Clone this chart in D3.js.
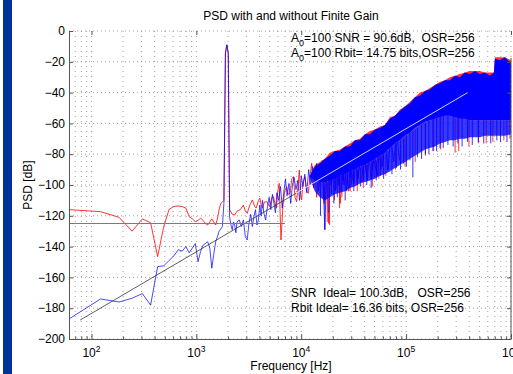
<!DOCTYPE html>
<html><head><meta charset="utf-8">
<script src="https://cdn.jsdelivr.net/npm/d3@7/dist/d3.min.js"></script>
<style>
body{margin:0;background:#fff;}
svg text{font-family:"Liberation Sans",Arial,Helvetica,sans-serif;fill:#000;white-space:pre;}
</style></head><body>
<svg id="c" width="513" height="374"></svg>
<script>
// ---------- data ----------
const df = 61.035;              // FFT bin spacing [Hz]
const nBins = 16384;
const xTickValues = [1e2, 1e3, 1e4, 1e5, 1e6];
const xTickExp = ["2", "3", "4", "5", "6"];
const xMinorMult = [2, 3, 4, 5, 6, 7, 8, 9];
const yTickValues = [0, -20, -40, -60, -80, -100, -120, -140, -160, -180, -200];

// red: finite gain PSD (bin index, dB)
const redBins = [1,2,3,4,5,6,7,8,9,10,11,12,13,14,15,16,17,18,19,20,21,22,23,24,25,26,27,28,29,30,31,32,33,34,
  36,38,40,43,46,48,50,53,56,59,61,64,66,68,70,73,77,80,82,86,89,92,95,98,101,105,110,114,119,123,128,133,138,143,148,
  153,157,161,165,171,178,184,191,198,206,215,222,230,240,250,260,270,280,290,300,310,320,
  335,350,368,385,405,420,440,465,490,510,535,560,590,620,650,690,720,760,800,850,900,950,1000];
const redDb = [-116,-117.3,-121,-130,-122,-124.5,-146.5,-127,-115.8,-114,-113.6,-114,-115,-120.6,-122,-123.8,-123,-121.6,-123,-125,
  -126,-124,-122,-124,-126,-122,-116,-112,-111,-110,-15,-9,-15,-116,
  -119,-119.5,-117,-116,-113,-117,-118.4,-113,-109.7,-114,-115,-110,-108.6,-113,-115,-111,-110.8,-113,-114,-108,
  -107.6,-112,-115,-104,-98.9,-135.7,-111.9,-104,-101.1,-106,-105.4,-96,-94.6,-108,-110.8,-100,-90.3,-105,-109.7,-98,
  -94.6,-104,-105.4,-95,-85.9,-102,-92,-108,-88,-100,-84,-112,-90,-102,-125,-85,-98,
  -92,-102,-86,-112,-90,-100,-84,-104,-88,-97,-80,-100,-86,-98,-80,-95,-78,-96,-82,-91,-76,-90,-73];

// blue: ideal PSD (bin index, dB)
const blueBins = [1,2,3,4,5,6,7,8,9,10,11,12,13,14,15,16,17,18,19,20,21,22,23,24,25,26,27,28,29,30,31,32,33,
  34,35,36,37,38,39,40,42,44,46,48,50,52,54,56,58,60,62,64,66,68,70,72,75,78,81,84,87,90,93,
  96,100,104,108,112,116,120,125,130,135,140,146,152,158,164,170,177,185,193,201,210,220,230,240,252,264,275,285,300,315,330,
  345,360,375,390,410,425,445,460,480,500,520,545,570,600,630,660,700,740,780,820,870,920,970,1030,1100,1170,1250,1330,1420];
const blueDb = [-187,-174,-176,-173.5,-170.5,-178,-153,-152.5,-149,-146,-142,-143,-140,-144,-141,-138,-149.8,-143,-139,-138,
  -136.8,-141,-154,-145,-137,-133.6,-130,-128.5,-127,-112,-14,-9,-14,
  -120.6,-126,-129,-124,-126,-131,-124,-122.7,-127,-122.7,-133.6,-135.7,-124.9,-119,-127,-120.6,-116,-126,-122.7,-113,
  -120,-110,-118,-122.7,-114,-108,-116,-106,-112,-118,
  -105,-110,-101,-115,-104,-96,-107,-99,-112,-100,-95,-103,-97,-110,-94,-101,-93,-105,-90,-100,-88,-97,-86,-104,-90,-96,-129,-92,-84,-100,-80,
  -96,-88,-100,-85,-97,-82,-104,-86,-95,-80,-99,-84,-96,-78,-93,-82,-97,-75,-90,-79,-94,-74,-88,-72,-90,-70,-85,-66,-84];

// dense high-frequency noise band envelopes (bin index, dB)
const bandBins = [198,221,247,275,307,343,383,427,477,532,594,663,740,826,921,1028,1148,1281,1429,1595,1780,1987,2217,2475,
  2762,3082,3440,3839,4284,4781,5336,5955,6645,7416,8277,9237,10308,11260,11504,12838,14328,16384];
const blueTop = [-94,-88,-86,-83,-81,-78,-78,-75,-75,-71,-71,-67,-67,-64,-63,-61,-57,-55,-52,-49,-47,-43,-42,-39,-38,-35,-34,-32,
  -32,-29,-30,-27,-28,-26,-28,-27,-29,-27,-18,-19,-17,-21];
const blueCore = [-95,-97,-98,-98,-97,-96,-94,-93,-91,-90,-88,-87,-85,-83,-81,-79,-76,-73,-71,-68,-66,-63,-61,-59,-58,-57,-56,-55,
  -55,-56,-57,-57,-58,-58,-58,-58,-58,-58,-58,-58,-58,-58];
const blueFringe = [-96,-104,-108,-110,-108,-106,-105,-104,-102,-101,-99,-98,-97,-96,-94,-93,-91,-89,-87,-85,-83,-81,-79,-77,
  -76,-75,-73,-72,-71,-71,-70,-70,-69,-69,-69,-68,-68,-68,-68,-68,-68,-67];
const redTop = [-94,-87,-85,-83,-79,-78,-77,-75,-73,-71,-70,-67,-65,-64,-62,-61,-56,-55,-51,-49,-46,-43,-40,-39,-37,-35,-33,-32,
  -30,-29,-28,-27,-26,-26,-26,-27,-27,-27,-17,-17,-17,-19];

// isolated deep noise spikes: [bin, from dB, to dB]
const blueSpikes = [[250,-100,-120],[275,-100,-129],[300,-97,-118],[318,-96,-106],[335,-96,-112],[348,-95,-104],[362,-95,-108],
  [378,-94,-101],[392,-94,-104],[410,-93,-100],[430,-93,-110],[450,-92,-99],[470,-92,-102],[495,-91,-100],[520,-91,-104],
  [560,-90,-98],[600,-89,-101],[645,-88,-97],[690,-87,-100],[760,-86,-102],[810,-85,-95],[850,-84,-97],[930,-82,-94],
  [1000,-81,-96],[1100,-78,-91],[1200,-76,-93],[1320,-73,-89],[1450,-71,-90],[1550,-70,-86],[1650,-68,-88],[1780,-66,-84],
  [1900,-65,-95],[2100,-63,-82],[2300,-61,-83],[2500,-60,-80],[2700,-58,-80],[2950,-57,-78],[3200,-56,-78],[3450,-56,-76],
  [3700,-55,-76],[4100,-55,-74],[4600,-55,-75],[5100,-54,-73],[5600,-54,-75],[6300,-54,-72],[7000,-54,-74],[8000,-54,-72],
  [9000,-54,-73],[10500,-54,-73],[12000,-54,-71],[13000,-54,-72],[15000,-54,-72]];
const redSpikes = [[290,-98,-124],[305,-97,-126],[340,-96,-110],[380,-95,-115],[400,-94,-108],[480,-92,-104],[560,-90,-104],
  [640,-88,-102],[780,-85,-101],[900,-83,-96],[1050,-80,-94],[1300,-74,-90],[1600,-69,-88],[2000,-64,-85],[2500,-60,-81],
  [3000,-57,-78],[3500,-56,-77],[4800,-55,-79],[5200,-55,-78],[6500,-54,-75],[8000,-54,-73],[9500,-54,-73],[11000,-54,-72],
  [14000,-54,-71],[16000,-54,-70]];

// 40 dB/decade reference slope (Hz, dB): dark part then white part
const trendFreq = [78, 9000, 386000];
const trendDb = [-187.7, -105.2, -40];
// horizontal reference level
const levelFreq = [61.035, 7000];
const levelDb = [-125, -125];

const titleText = "PSD with and without Finite Gain";
const xLabel = "Frequency [Hz]";
const yLabel = "PSD [dB]";
const notesTop = [["A", "0", "=100 SNR = 90.6dB,  OSR=256"], ["A", "0", "=100 Rbit= 14.75 bits,OSR=256"]];
const notesTopDb = [-7, -16.7];
const notesBottom = ["SNR  Ideal= 100.3dB,   OSR=256", "Rbit Ideal= 16.36 bits, OSR=256"];
const notesBottomDb = [-172.5, -182.2];
const notesFreq = 8000;

// ---------- chart ----------
const W = 513, H = 374;
const L = 69, R = 511, T = 31, B = 339;
const svg = d3.select("#c");
svg.append("rect").attr("x", 3).attr("y", 0).attr("width", 9).attr("height", H).attr("fill", "#003399");

const x = d3.scaleLog().domain([df, df * nBins]).range([L, R]);
const y = d3.scaleLinear().domain([-200, 0]).range([B, T]);

// grid
const allX = [];
[10, 100, 1e3, 1e4, 1e5].forEach(dec => {
  [1].concat(xMinorMult).forEach(m => { const f = m * dec; if (f >= df && f <= df * nBins) allX.push(f); });
});
allX.push(1e6);
const grid = svg.append("g");
grid.selectAll("line.v").data(allX).join("line")
  .attr("x1", d => x(d)).attr("x2", d => x(d)).attr("y1", T).attr("y2", B)
  .attr("stroke", "#8a8a8a").attr("stroke-width", 0.8).attr("stroke-dasharray", "1,4");
grid.selectAll("line.h").data(yTickValues).join("line")
  .attr("x1", L).attr("x2", R).attr("y1", d => y(d)).attr("y2", d => y(d))
  .attr("stroke", "#8a8a8a").attr("stroke-width", 0.8).attr("stroke-dasharray", "1,3");

// data
svg.append("clipPath").attr("id", "pc").append("rect")
  .attr("x", L).attr("y", T).attr("width", R - L).attr("height", B - T);
const plot = svg.append("g").attr("clip-path", "url(#pc)");
const bx = k => x(k * df);

const band = bandBins.map((k, i) => ({k, bt: blueTop[i], bc: blueCore[i], bf: blueFringe[i], rt: redTop[i]}));

plot.append("path").datum(band)
  .attr("d", d3.area().x(d => bx(d.k)).y0(d => y(d.bc)).y1(d => y(d.rt)))
  .attr("fill", "#ff0000").attr("fill-opacity", 0.8);

plot.selectAll("line.rs").data(redSpikes).join("line")
  .attr("x1", d => bx(d[0])).attr("x2", d => bx(d[0])).attr("y1", d => y(d[1])).attr("y2", d => y(d[2]))
  .attr("stroke", "#ff0000").attr("stroke-width", 0.8);

const line = d3.line().x(d => bx(d[0])).y(d => y(d[1]));
plot.append("path").datum(redBins.map((k, i) => [k, redDb[i]]))
  .attr("d", line).attr("fill", "none").attr("stroke", "#ff0000").attr("stroke-width", 0.8);

plot.append("path").datum(band)
  .attr("d", d3.area().x(d => bx(d.k)).y0(d => y(d.bf)).y1(d => y(d.bc)))
  .attr("fill", "#0000ff").attr("fill-opacity", 0.78);

plot.selectAll("line.bs").data(blueSpikes).join("line")
  .attr("x1", d => bx(d[0])).attr("x2", d => bx(d[0])).attr("y1", d => y(d[1])).attr("y2", d => y(d[2]))
  .attr("stroke", "#0000ff").attr("stroke-width", 0.8);

plot.append("path").datum(blueBins.map((k, i) => [k, blueDb[i]]))
  .attr("d", line).attr("fill", "none").attr("stroke", "#0000ff").attr("stroke-width", 0.8).attr("stroke-opacity", 0.9);

plot.append("path").datum(band)
  .attr("d", d3.area().x(d => bx(d.k)).y0(d => y(d.bc)).y1(d => y(d.bt)))
  .attr("fill", "#0000ff");

// reference lines
const fl = d3.line().x(d => x(d[0])).y(d => y(d[1]));
plot.append("path").datum([[trendFreq[0], trendDb[0]], [trendFreq[1], trendDb[1]]])
  .attr("d", fl).attr("stroke", "#333").attr("stroke-width", 0.8).attr("fill", "none");
plot.append("path").datum([[trendFreq[1], trendDb[1]], [trendFreq[2], trendDb[2]]])
  .attr("d", fl).attr("stroke", "#e8e8ff").attr("stroke-width", 0.9).attr("fill", "none");
plot.append("path").datum(levelFreq.map((f, i) => [f, levelDb[i]]))
  .attr("d", fl).attr("stroke", "#7a7a7a").attr("stroke-width", 1).attr("fill", "none");

// axes
const axisCol = "#555";
function styleAxis(g) {
  g.selectAll("path.domain").attr("stroke", axisCol);
  g.selectAll(".tick line").attr("stroke", axisCol);
  g.selectAll(".tick text").remove();
}
const minorVals = allX.filter(f => xTickValues.indexOf(f) < 0);
svg.append("g").attr("transform", `translate(0,${B})`)
  .call(d3.axisBottom(x).tickValues(minorVals).tickSizeInner(-2.5).tickSizeOuter(0)).call(styleAxis)
  .selectAll("path.domain").remove();
svg.append("g").attr("transform", `translate(0,${B})`)
  .call(d3.axisBottom(x).tickValues(xTickValues).tickSizeInner(-5).tickSizeOuter(0)).call(styleAxis);
svg.append("g").attr("transform", `translate(0,${T})`)
  .call(d3.axisTop(x).tickValues(xTickValues).tickSizeInner(-4).tickSizeOuter(0)).call(styleAxis)
  .selectAll("path.domain").remove();
svg.append("g").attr("transform", `translate(${L},0)`)
  .call(d3.axisLeft(y).tickValues(yTickValues).tickSizeInner(-4).tickSizeOuter(0)).call(styleAxis);
svg.append("g").attr("transform", `translate(${R},0)`)
  .call(d3.axisRight(y).tickValues(yTickValues.filter(v => v < -10)).tickSizeInner(-4).tickSizeOuter(0)).call(styleAxis)
  .selectAll("path.domain").remove();
svg.append("line").attr("x1", R).attr("x2", R).attr("y1", y(-17.5)).attr("y2", B).attr("stroke", axisCol);

// tick labels
const xl = svg.append("g");
xTickValues.forEach((v, i) => {
  const t = xl.append("text").attr("x", x(v)).attr("y", 357).attr("text-anchor", "middle").attr("font-size", "12px");
  t.append("tspan").text("10");
  t.append("tspan").attr("dy", -5).attr("font-size", "8.5px").text(xTickExp[i]);
});
svg.append("g").selectAll("text").data(yTickValues).join("text")
  .attr("x", 65).attr("y", d => y(d)).attr("dy", "0.35em").attr("text-anchor", "end").attr("font-size", "12px")
  .text(d => d === 0 ? "0" : "\u2212" + Math.abs(d));

// titles
svg.append("text").attr("x", (L + R) / 2 + 1).attr("y", 20).attr("text-anchor", "middle").attr("font-size", "12px").text(titleText);
svg.append("text").attr("x", (L + R) / 2 + 1).attr("y", 370).attr("text-anchor", "middle").attr("font-size", "12px").text(xLabel);
svg.append("text").attr("transform", "translate(31.5,185) rotate(-90)").attr("text-anchor", "middle").attr("font-size", "12px").text(yLabel);

notesTop.forEach((n, i) => {
  const t = svg.append("text").attr("x", x(notesFreq)).attr("y", y(notesTopDb[i])).attr("font-size", "12px");
  t.append("tspan").text(n[0]);
  t.append("tspan").attr("dy", 4).attr("font-size", "9px").text(n[1]);
  t.append("tspan").attr("dy", -4).text(n[2]);
});
notesBottom.forEach((n, i) => {
  svg.append("text").attr("x", x(notesFreq)).attr("y", y(notesBottomDb[i])).attr("font-size", "12px").text(n);
});
</script>
</body></html>
